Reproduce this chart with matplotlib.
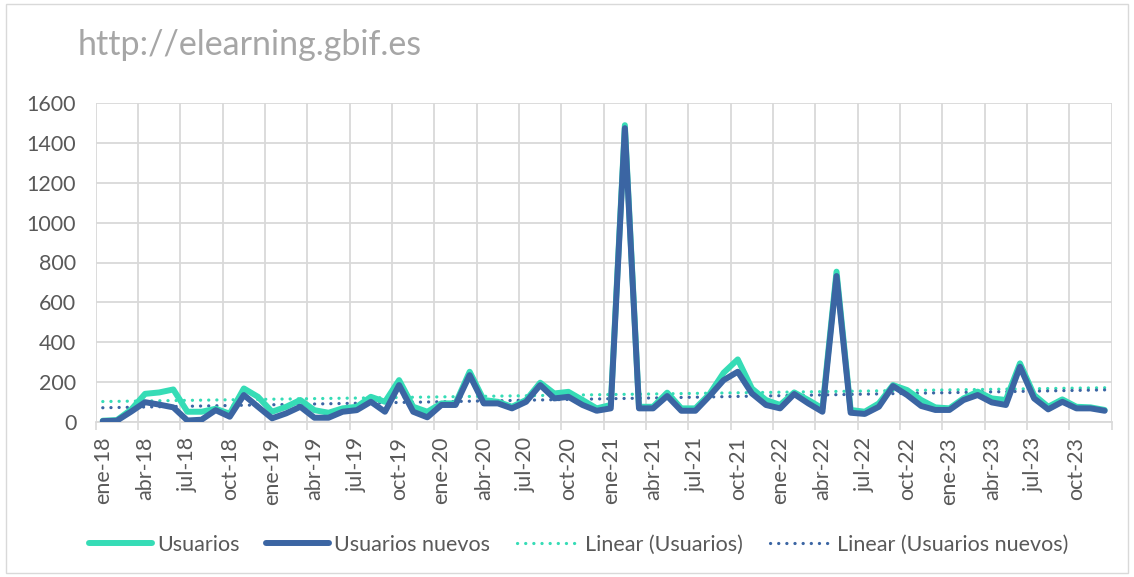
import numpy as np
import matplotlib.pyplot as plt
from matplotlib.patches import Rectangle

plt.rcParams['font.family'] = ['Lato', 'DejaVu Sans']

# monthly categories ene-18 .. dic-23
meses = ['ene', 'feb', 'mar', 'abr', 'may', 'jun', 'jul', 'ago', 'sep', 'oct', 'nov', 'dic']
anios = ['18', '19', '20', '21', '22', '23']
categorias = [m + '-' + a for a in anios for m in meses]

usuarios = [5, 8, 60, 140, 147, 162, 50, 50, 65, 40, 167, 125,
            50, 75, 109, 58, 45, 67, 75, 125, 100, 209, 75, 50,
            92, 92, 251, 109, 100, 75, 109, 196, 142, 150, 109, 67,
            84, 1490, 75, 75, 146, 67, 67, 139, 246, 313, 167, 109,
            84, 147, 109, 67, 754, 59, 50, 92, 184, 159, 109, 72,
            67, 117, 151, 117, 109, 293, 134, 75, 112, 75, 72, 59]
usuarios_nuevos = [3, 5, 50, 98, 86, 72, 6, 10, 58, 25, 134, 75,
                   17, 42, 75, 20, 20, 50, 58, 100, 50, 184, 50, 22,
                   84, 84, 234, 92, 92, 67, 100, 184, 117, 125, 84, 55,
                   67, 1475, 67, 67, 129, 55, 55, 129, 209, 251, 142, 84,
                   67, 139, 92, 50, 732, 45, 39, 75, 179, 134, 79, 59,
                   59, 109, 134, 97, 84, 276, 117, 62, 100, 67, 67, 55]

c_teal = '#36DCB6'
c_dark = '#3B65A3'
c_grid = '#D9D9D9'
c_text = '#595959'

fig = plt.figure(figsize=(11.34, 5.77), dpi=100)
ax = fig.add_axes([95.7/1134, 1-421.7/577, (1111.7-95.7)/1134, (421.7-103.3)/577])

x = np.arange(len(categorias)) + 0.5

# trend lines (least squares, like Excel's linear trendline)
p1 = np.polyfit(x, usuarios, 1)
p2 = np.polyfit(x, usuarios_nuevos, 1)

ax.plot(x, usuarios, color=c_teal, lw=4.3, solid_joinstyle='round', solid_capstyle='round', label='Usuarios', zorder=3)
ax.plot(x, usuarios_nuevos, color=c_dark, lw=4.3, solid_joinstyle='round', solid_capstyle='round', label='Usuarios nuevos', zorder=4)
ax.plot(x, np.polyval(p1, x), color=c_teal, lw=2.3, ls=(0, (0.05, 2.5)), dash_capstyle='round', label='Linear (Usuarios)', zorder=2)
ax.plot(x, np.polyval(p2, x), color=c_dark, lw=2.3, ls=(0, (0.05, 2.5)), dash_capstyle='round', label='Linear (Usuarios nuevos)', zorder=2)

ax.set_xlim(0, 72)
ax.set_ylim(0, 1600)
ax.set_yticks(range(0, 1601, 200))

# gridlines at category boundaries every 3 months, labels centred on the category
ax.set_xticks(np.arange(0, 73, 3))
ax.set_xticklabels([])
ax.set_xticks(x[::3], minor=True)
ax.set_xticklabels(categorias[::3], minor=True, rotation=90, fontsize=15.5, color=c_text)
ax.tick_params(axis='x', which='minor', length=0, pad=11)
ax.tick_params(axis='x', which='major', length=6, color=c_grid, width=1.2)
ax.tick_params(axis='y', length=0, pad=14, labelsize=15.5, labelcolor=c_text)

ax.grid(True, which='major', color=c_grid, lw=1.3)
ax.set_axisbelow(True)
for s in ['top', 'right', 'left']:
    ax.spines[s].set_visible(False)
ax.spines['bottom'].set_color(c_grid)
ax.spines['bottom'].set_linewidth(1.3)

fig.text(78/1134, 1-45/577, 'http://elearning.gbif.es', fontsize=24.5, color='#A6A6A6', va='center', ha='left')

leg = fig.legend(loc='center', bbox_to_anchor=(579/1134, 1-545/577), ncol=4, frameon=False,
                 fontsize=15.5, handlelength=2.9, handletextpad=0.25, columnspacing=1.25)
for t in leg.get_texts():
    t.set_color(c_text)

fig.patches.append(Rectangle((6/1134, 4/577), 1-12/1134, 1-8/577, transform=fig.transFigure,
                             fill=False, edgecolor='#D9D9D9', lw=1))

fig.savefig('out.png', dpi=100, facecolor='white')
